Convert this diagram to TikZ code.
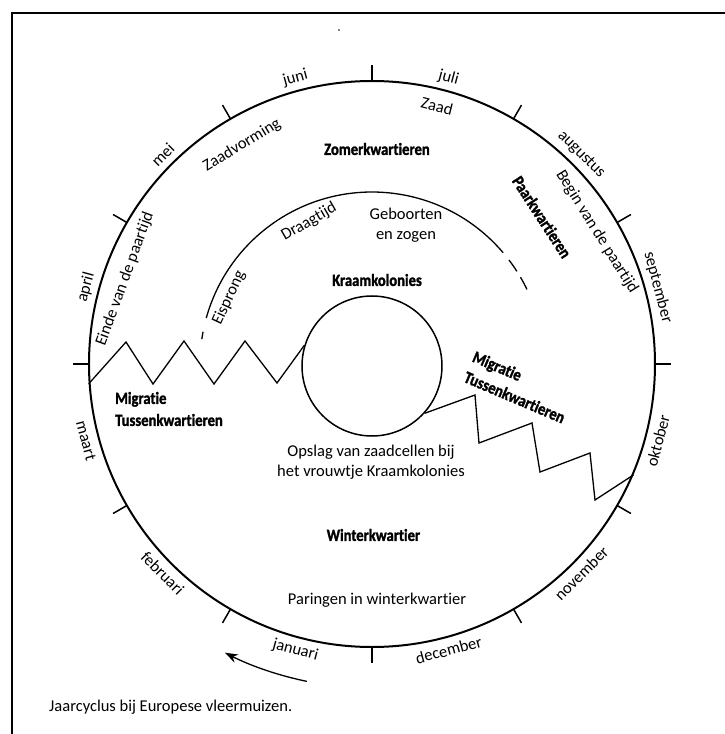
\documentclass[tikz,border=0pt]{standalone}
\usepackage{fontspec}
\setmainfont[Ligatures=NoCommon]{Carlito}
\newfontfamily\kopfont[Ligatures=NoCommon,FakeStretch=0.86,BoldFeatures={FakeBold=1.5}]{Carlito}
\usepackage{tikz}
\usetikzlibrary{arrows.meta}

\begin{document}
\begin{tikzpicture}[x=1pt,y=1pt,
  maand/.style={font=\fontsize{16.5}{20}\selectfont, inner sep=0pt},
  tekst/.style={font=\fontsize{16.5}{20}\selectfont, inner sep=0pt, align=center},
  kop/.style={font=\kopfont\fontsize{17}{22}\selectfont\bfseries, inner sep=0pt}]
  \useasboundingbox (-372,-370) rectangle (353,364);
  % frame
  \draw[line width=2] (353,351.3) -- (-360.3,351.3) -- (-360.3,-370);
  \fill (-33,334) circle (0.8);
  % year circle with months
  \node[circle, draw, line width=2, minimum size=566, inner sep=0pt] (jaar) at (0,0) {};
  \foreach \a in {0,30,...,330}
    \draw[line width=1.5] (\a:283) -- (\a:299);
  \foreach \a/\m in {165/april,135/mei,105/juni,75/juli,45/augustus,15/september}
    \node[maand, rotate=\a-90] (m-\m) at (\a:296) {\m};
  \foreach \a/\m in {345/oktober,315/november,285/december,255/januari,225/februari,195/maart}
    \node[maand, rotate=\a+90] (m-\m) at (\a:296) {\m};
  \draw[line width=1.3, -{Stealth[length=13,width=9]}] (258.4:324) arc[start angle=258.4, end angle=243, radius=324];
  % colonies and migration
  \node[circle, draw, line width=1.5, minimum size=140, inner sep=0pt] (kolonie) at (0,-2) {};
  \draw[line width=1.3] (jaar.184) -- (-246,22) -- (-219,-20) -- (-188,23) -- (-158,-20)
    -- (-127,23) -- (-95,-19) -- (kolonie.163);
  \draw[line width=1.3] (kolonie.318) -- (103,-31) -- (107,-79) -- (160,-59) -- (168,-108)
    -- (218,-89) -- (223,-136) -- (jaar.337);
  % pregnancy arc
  \draw[line width=1.3] (40.3:172) arc[start angle=40.3, end angle=164.5, radius=172];
  \draw[line width=1.3] (169.2:172) arc[start angle=169.2, end angle=171.7, radius=172];
  \draw[line width=1.3] (37.2:172) arc[start angle=37.2, end angle=32.6, radius=172];
  \draw[line width=1.3] (30.3:172) arc[start angle=30.3, end angle=25.7, radius=172];
  % labels
  \node[tekst, rotate=-14] (zaad) at (65,258) {Zaad};
  \node[tekst, rotate=31] (zaadvorming) at (-130,219) {Zaadvorming};
  \node[tekst, rotate=70] (einde) at (-247,85) {Einde van de paartijd};
  \node[tekst, rotate=-58] (begin) at (225,132) {Begin van de paartijd};
  \node[kop, rotate=-57] (paar) at (170,147) {Paarkwartieren};
  \node[kop] (zomer) at (5,215) {Zomerkwartieren};
  \node[tekst, rotate=30] (draagtijd) at (-63,142) {Draagtijd};
  \node[tekst, rotate=65] (eisprong) at (-143,66) {Eisprong};
  \node[tekst] (geboorte) at (34,139) {Geboorten\\en zogen};
  \node[kop] (kraam) at (5,84) {Kraamkolonies};
  \node[kop, align=left, anchor=west] (migratie-l) at (-257,-45) {Migratie\\Tussenkwartieren};
  \node[kop, align=left, rotate=-23] (migratie-r) at (147,-23) {Migratie\\Tussenkwartieren};
  \node[tekst] (opslag) at (-1,-98) {Opslag van zaadcellen bij\\het vrouwtje Kraamkolonies};
  \node[kop] (winter) at (1.5,-171) {Winterkwartier};
  \node[tekst] (paring) at (5,-236) {Paringen in winterkwartier};
  \node[tekst, anchor=west] (bijschrift) at (-323,-343) {Jaarcyclus bij Europese vleermuizen.};
\end{tikzpicture}
\end{document}
